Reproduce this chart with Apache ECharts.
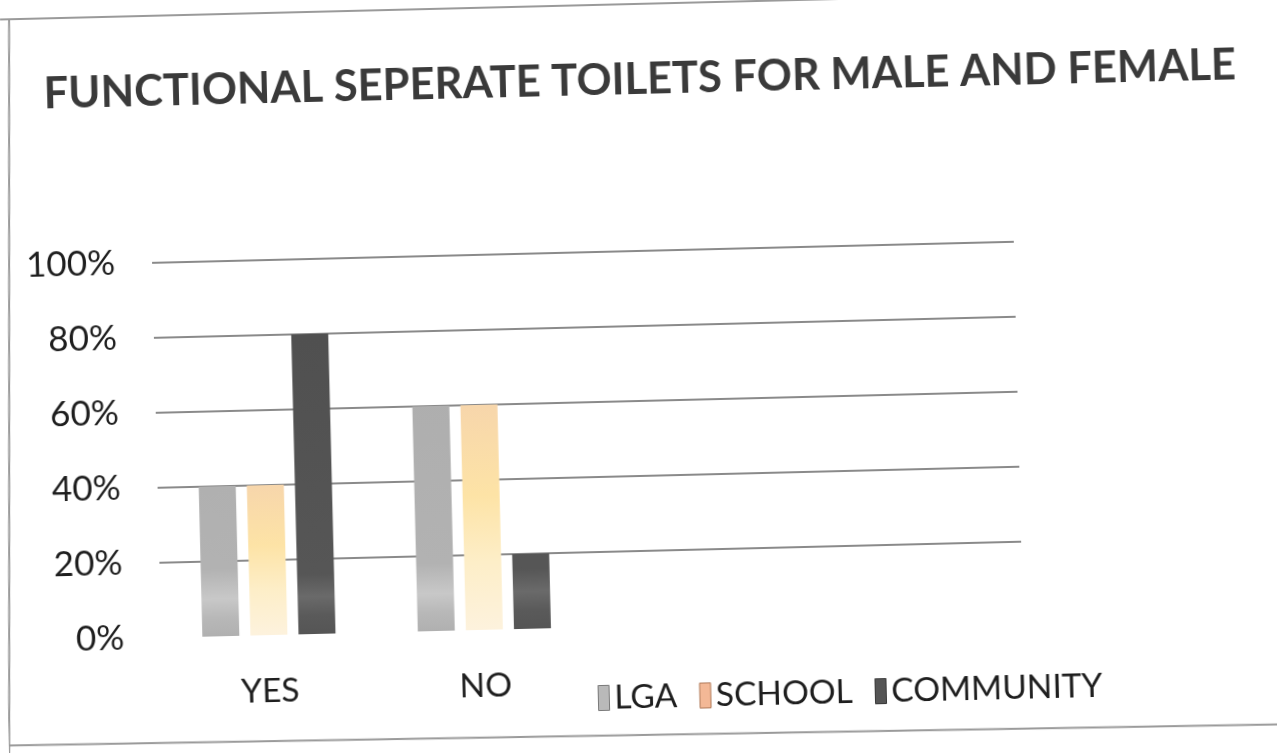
<!DOCTYPE html>
<html>
<head>
<meta charset="utf-8">
<script src="https://cdn.jsdelivr.net/npm/echarts@6/dist/echarts.min.js"></script>
<style>
  html, body { margin: 0; padding: 0; background: #ffffff; overflow: hidden; }
  #chart {
    width: 1277px; height: 753px;
    transform: rotate(-1.4deg);
    transform-origin: 638.5px 376.5px;
  }
</style>
</head>
<body>
<div id="chart"></div>
<script>
// Share of respondents reporting functional separate toilets
const categories = ['YES', 'NO', '', ''];
const lgaValues = [40, 60];
const schoolValues = [40, 60];
const communityValues = [80, 20];
const yTicks = [0, 20, 40, 60, 80, 100];

const chart = echarts.init(document.getElementById('chart'), null, { renderer: 'canvas' });

const gridTop = 251, gridHeight = 375, gridLeft = 155, gridWidth = 862;
const g = echarts.graphic;

// grey fills carry a faint light band close to the baseline
const lgaFill = new g.LinearGradient(0, gridTop, 0, gridTop + gridHeight, [
  { offset: 0, color: '#ababab' },
  { offset: 0.82, color: '#b2b2b2' },
  { offset: 0.9, color: '#c8c8c8' },
  { offset: 0.95, color: '#b8b8b8' },
  { offset: 1, color: '#b0b0b0' }
], true);
const communityFill = new g.LinearGradient(0, gridTop, 0, gridTop + gridHeight, [
  { offset: 0, color: '#4e4e4e' },
  { offset: 0.84, color: '#565656' },
  { offset: 0.9, color: '#6a6a6a' },
  { offset: 0.95, color: '#5a5a5a' },
  { offset: 1, color: '#555555' }
], true);
const schoolFill = new g.LinearGradient(0, 0, 0, 1, [
  { offset: 0, color: '#f7d6ab' },
  { offset: 0.4, color: '#fde3a6' },
  { offset: 0.7, color: '#fdeec8' },
  { offset: 1, color: '#fdf2dd' }
]);

const labelFont = 'Lato, "Open Sans", sans-serif';

chart.setOption({
  backgroundColor: '#ffffff',
  animation: false,
  title: {
    text: 'FUNCTIONAL SEPERATE TOILETS FOR MALE AND FEMALE',
    left: 642, top: 53, textAlign: 'center',
    textStyle: { fontFamily: labelFont, fontWeight: 'bold', fontSize: 43.5, color: '#3a3a3a' }
  },
  legend: {
    left: 585, top: 672,
    itemWidth: 11, itemHeight: 25, itemGap: 22,
    icon: 'rect',
    textStyle: { fontFamily: labelFont, fontSize: 33.5, color: '#1e1e1e', lineHeight: 40 },
    data: [
      { name: 'LGA', itemStyle: { color: '#b9b9b9', borderColor: '#7a7a7a', borderWidth: 1 } },
      { name: 'SCHOOL', itemStyle: { color: '#f3b896', borderColor: '#b07a5a', borderWidth: 1 } },
      { name: 'COMMUNITY', itemStyle: { color: '#555555', borderColor: '#3a3a3a', borderWidth: 1 } }
    ]
  },
  grid: { left: gridLeft, top: gridTop, width: gridWidth, height: gridHeight, containLabel: false },
  xAxis: {
    type: 'category',
    data: categories,
    axisLine: { show: false },
    axisTick: { show: false },
    axisLabel: { fontFamily: labelFont, fontSize: 33.5, color: '#1e1e1e', margin: 39 }
  },
  yAxis: {
    type: 'value',
    min: 0, max: 100, interval: 20,
    axisLine: { show: false },
    axisTick: { show: false },
    axisLabel: {
      fontFamily: labelFont, fontSize: 35, color: '#1e1e1e', margin: 37,
      formatter: v => (yTicks.includes(v) ? v + '%' : '')
    },
    splitLine: { show: true, showMinLine: false, lineStyle: { color: '#8a8a8a', width: 2 } }
  },
  series: [
    { name: 'LGA', type: 'bar', data: lgaValues, barWidth: 37, barGap: '30%', itemStyle: { color: lgaFill } },
    { name: 'SCHOOL', type: 'bar', data: schoolValues, barWidth: 37, barGap: '30%', itemStyle: { color: schoolFill } },
    { name: 'COMMUNITY', type: 'bar', data: communityValues, barWidth: 37, barGap: '30%', itemStyle: { color: communityFill } }
  ],
  graphic: [
    // outer chart border of the sheet
    { type: 'line', silent: true, shape: { x1: 9, y1: 4, x2: 1290, y2: 4 }, style: { stroke: '#9a9a9a', lineWidth: 2 } },
    { type: 'line', silent: true, shape: { x1: 18, y1: 4, x2: 0, y2: 745 }, style: { stroke: '#9a9a9a', lineWidth: 2 } },
    { type: 'line', silent: true, shape: { x1: -10, y1: 730, x2: 1290, y2: 740 }, style: { stroke: '#9a9a9a', lineWidth: 2 } }
  ]
});
</script>
</body>
</html>
